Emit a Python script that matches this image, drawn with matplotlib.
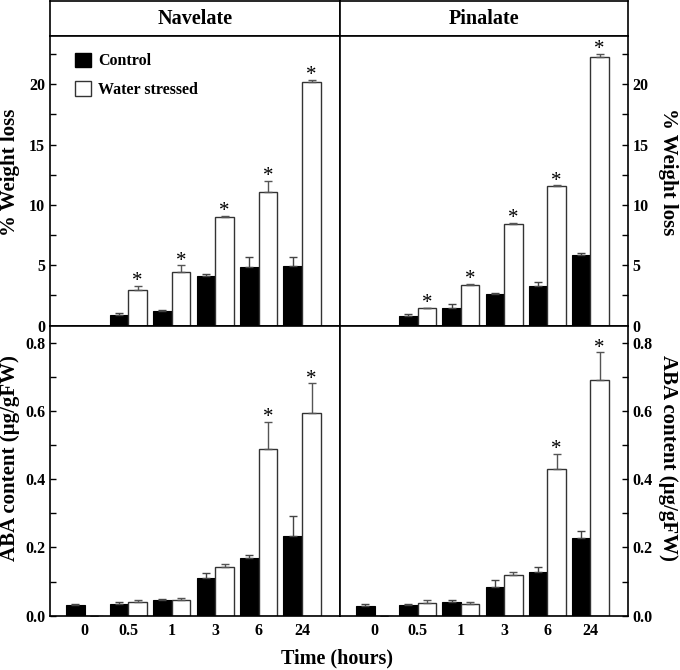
import numpy as np
import matplotlib
matplotlib.use("Agg")
import matplotlib.pyplot as plt
from matplotlib.patches import Patch
from matplotlib.ticker import MultipleLocator

plt.rcParams['font.family'] = ['Liberation Serif', 'DejaVu Serif']
plt.rcParams['font.weight'] = 'bold'

times = ['0', '0.5', '1', '3', '6', '24']
cultivars = ['Navelate', 'Pinalate']

nav_wl_ctrl = [0.0, 0.83, 1.19, 4.07, 4.84, 4.95]
nav_wl_ctrl_err = [0.0, 0.22, 0.08, 0.16, 0.86, 0.75]
nav_wl_ws = [np.nan, 2.96, 4.43, 8.99, 11.07, 20.22]
nav_wl_ws_err = [0.0, 0.33, 0.55, 0.11, 0.93, 0.14]

pin_wl_ctrl = [0.0, 0.75, 1.47, 2.60, 3.26, 5.81]
pin_wl_ctrl_err = [0.0, 0.22, 0.33, 0.08, 0.34, 0.22]
pin_wl_ws = [np.nan, 1.44, 3.37, 8.41, 11.53, 22.30]
pin_wl_ws_err = [0.0, 0.05, 0.09, 0.11, 0.12, 0.24]

nav_aba_ctrl = [0.031, 0.034, 0.046, 0.109, 0.169, 0.234]
nav_aba_ctrl_err = [0.003, 0.005, 0.004, 0.017, 0.010, 0.059]
nav_aba_ws = [np.nan, 0.041, 0.046, 0.144, 0.487, 0.593]
nav_aba_ws_err = [0.0, 0.005, 0.006, 0.007, 0.081, 0.088]

pin_aba_ctrl = [0.028, 0.032, 0.040, 0.083, 0.127, 0.228]
pin_aba_ctrl_err = [0.007, 0.002, 0.006, 0.023, 0.017, 0.021]
pin_aba_ws = [np.nan, 0.036, 0.034, 0.120, 0.430, 0.691]
pin_aba_ws_err = [0.0, 0.010, 0.006, 0.009, 0.044, 0.081]

wl_sig = [0, 1, 1, 1, 1, 1]
aba_sig = [0, 0, 0, 0, 1, 1]

fig = plt.figure(figsize=(6.8, 6.7), dpi=100)
W, H = 680.0, 670.0

def fx(px):
    return px / W

def fy(py):
    return 1 - py / H

panel_x = [(50, 340), (340, 628)]
title_y = (1, 36)
top_y = (36, 325.5)
bot_y = (325.5, 615.7)

bw = 0.43
x = np.arange(len(times))

def draw(ax, ctrl, ctrl_err, ws, ws_err, sig, ylim, major, minor):
    ax.bar(x - bw / 2, ctrl, bw, color='black', edgecolor='black', linewidth=0.8,
           yerr=[np.zeros(len(ctrl)), ctrl_err], capsize=3,
           error_kw=dict(ecolor='#444444', elinewidth=1.0, capthick=1.0))
    ws_arr = np.array(ws, dtype=float)
    ax.bar(x + bw / 2, np.nan_to_num(ws_arr), bw, color='white', edgecolor='#333333',
           linewidth=1.0,
           yerr=[np.zeros(len(ws)), ws_err], capsize=3,
           error_kw=dict(ecolor='#555555', elinewidth=1.0, capthick=1.0))
    for i, s in enumerate(sig):
        if s:
            ax.annotate('*', (x[i] + bw / 2, ws_arr[i] + ws_err[i]), xytext=(0, -4),
                        textcoords='offset points', ha='center', va='bottom',
                        fontsize=15, fontweight='normal')
    ax.set_xlim(-0.8, 5.87)
    ax.set_ylim(*ylim)
    ax.yaxis.set_major_locator(MultipleLocator(major))
    ax.yaxis.set_minor_locator(MultipleLocator(minor))
    ax.tick_params(axis='y', which='both', direction='in', length=4, width=1,
                   labelsize=11.5)
    ax.tick_params(axis='x', length=0, labelsize=11.5, pad=5)
    for sp in ax.spines.values():
        sp.set_linewidth(1.2)

data_top = [(nav_wl_ctrl, nav_wl_ctrl_err, nav_wl_ws, nav_wl_ws_err),
            (pin_wl_ctrl, pin_wl_ctrl_err, pin_wl_ws, pin_wl_ws_err)]
data_bot = [(nav_aba_ctrl, nav_aba_ctrl_err, nav_aba_ws, nav_aba_ws_err),
            (pin_aba_ctrl, pin_aba_ctrl_err, pin_aba_ws, pin_aba_ws_err)]

for j, (x0, x1) in enumerate(panel_x):
    axt = fig.add_axes([fx(x0), fy(title_y[1]), fx(x1 - x0), (title_y[1] - title_y[0]) / H])
    axt.set_xticks([]); axt.set_yticks([])
    for sp in axt.spines.values():
        sp.set_linewidth(1.2)
    axt.text(0.5, 0.5, cultivars[j], ha='center', va='center', fontsize=14.5,
             fontweight='bold', transform=axt.transAxes)

    ax1 = fig.add_axes([fx(x0), fy(top_y[1]), fx(x1 - x0), (top_y[1] - top_y[0]) / H])
    draw(ax1, *data_top[j], wl_sig, (0, 24), 5, 2.5)
    ax1.set_xticks([])
    ax1.set_yticks([0, 5, 10, 15, 20])
    ax1.set_yticklabels(['0', '5', '10', '15', '20'])

    ax2 = fig.add_axes([fx(x0), fy(bot_y[1]), fx(x1 - x0), (bot_y[1] - bot_y[0]) / H])
    draw(ax2, *data_bot[j], aba_sig, (0, 0.85), 0.2, 0.1)
    ax2.set_xticks(x)
    ax2.set_xticklabels(times, fontweight='bold')
    ax2.set_yticks([0, 0.2, 0.4, 0.6, 0.8])
    ax2.set_yticklabels(['0.0', '0.2', '0.4', '0.6', '0.8'])

    if j == 1:
        for a in (ax1, ax2):
            a.yaxis.tick_right()
            a.tick_params(axis='y', which='both', direction='in', left=False, right=True)
    else:
        leg = ax1.legend(handles=[Patch(facecolor='black', edgecolor='black', label='Control'),
                                  Patch(facecolor='white', edgecolor='#333333', label='Water stressed')],
                         loc='upper left', bbox_to_anchor=(0.065, 0.965), frameon=False,
                         fontsize=11.5, handlelength=1.0, handleheight=1.05,
                         handletextpad=0.45, labelspacing=0.75, borderaxespad=0)
        for t in leg.get_texts():
            t.set_fontweight('bold')

    for a in (ax1, ax2):
        for lab in a.get_yticklabels():
            lab.set_fontweight('bold')

fig.text(fx(10), fy(172), '% Weight loss', rotation=90,
         ha='center', va='center', fontsize=15, fontweight='bold')
fig.text(fx(10), fy(458), 'ABA content (µg/gFW)', rotation=90,
         ha='center', va='center', fontsize=15, fontweight='bold')
fig.text(fx(668), fy(172), '% Weight loss', rotation=270,
         ha='center', va='center', fontsize=15, fontweight='bold')
fig.text(fx(668), fy(458), 'ABA content (µg/gFW)', rotation=270,
         ha='center', va='center', fontsize=15, fontweight='bold')
fig.text(fx(337), fy(658), 'Time (hours)', ha='center', va='center', fontsize=14.5,
         fontweight='bold')

fig.savefig('out.png', dpi=100)
